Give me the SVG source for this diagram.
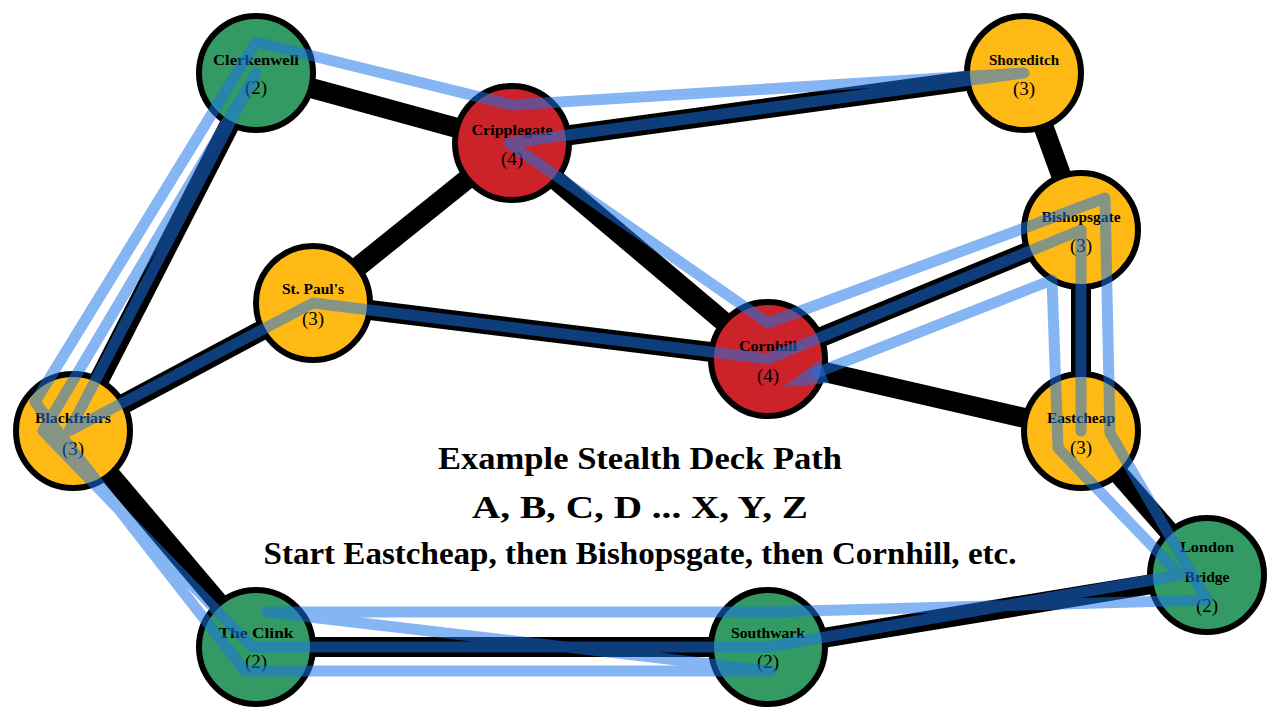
<svg xmlns="http://www.w3.org/2000/svg" width="1280" height="720" viewBox="0 0 1280 720">
<style>
.e{stroke:#000;stroke-width:20;fill:none}
.n{stroke:#000;stroke-width:6}
.g{fill:#339a63}.y{fill:#ffb914}.r{fill:#cb2329}
text{font-family:"Liberation Serif","DejaVu Serif",serif;fill:#000;text-anchor:middle}
.l{font-size:15px;font-weight:bold}
.c{font-size:19px}
.t{font-size:32px;font-weight:bold}
.route{fill:none;stroke:#1a73e8;stroke-opacity:.53;stroke-width:11;stroke-linejoin:round;stroke-linecap:round}
.tip{fill:#1a73e8;fill-opacity:.53}
</style>
<rect width="1280" height="720" fill="#fff"/>
<g id="connectors">
<line class="e" x1="256" y1="73" x2="512" y2="143"/>
<line class="e" x1="256" y1="73" x2="73" y2="431"/>
<line class="e" x1="512" y1="143" x2="313" y2="303"/>
<line class="e" x1="512" y1="143" x2="1024" y2="73"/>
<line class="e" x1="512" y1="143" x2="768" y2="359"/>
<line class="e" x1="313" y1="303" x2="73" y2="431"/>
<line class="e" x1="313" y1="303" x2="768" y2="359"/>
<line class="e" x1="1024" y1="73" x2="1081" y2="230"/>
<line class="e" x1="1081" y1="230" x2="768" y2="359"/>
<line class="e" x1="1081" y1="230" x2="1081" y2="431"/>
<line class="e" x1="768" y1="359" x2="1081" y2="431"/>
<line class="e" x1="1081" y1="431" x2="1207" y2="575"/>
<line class="e" x1="73" y1="431" x2="256" y2="647"/>
<line class="e" x1="256" y1="647" x2="768" y2="647"/>
<line class="e" x1="768" y1="647" x2="1207" y2="575"/>
</g>
<g id="clerkenwell"><circle class="n g" cx="256" cy="73" r="57"/><text class="l" x="256" y="65" textLength="86" lengthAdjust="spacingAndGlyphs">Clerkenwell</text><text class="c" x="256" y="94">(2)</text></g>
<g id="cripplegate"><circle class="n r" cx="512" cy="143" r="57"/><text class="l" x="512" y="135" textLength="81" lengthAdjust="spacingAndGlyphs">Cripplegate</text><text class="c" x="512" y="165">(4)</text></g>
<g id="st-pauls"><circle class="n y" cx="313" cy="303" r="57"/><text class="l" x="313" y="294" textLength="62" lengthAdjust="spacingAndGlyphs">St. Paul's</text><text class="c" x="313" y="325">(3)</text></g>
<g id="shoreditch"><circle class="n y" cx="1024" cy="73" r="57"/><text class="l" x="1024" y="65" textLength="70" lengthAdjust="spacingAndGlyphs">Shoreditch</text><text class="c" x="1024" y="95">(3)</text></g>
<g id="bishopsgate"><circle class="n y" cx="1081" cy="230" r="57"/><text class="l" x="1081" y="222" textLength="79" lengthAdjust="spacingAndGlyphs">Bishopsgate</text><text class="c" x="1081" y="252">(3)</text></g>
<g id="cornhill"><circle class="n r" cx="768" cy="359" r="57"/><text class="l" x="768" y="351" textLength="58" lengthAdjust="spacingAndGlyphs">Cornhill</text><text class="c" x="768" y="382">(4)</text></g>
<g id="eastcheap"><circle class="n y" cx="1081" cy="431" r="57"/><text class="l" x="1081" y="423" textLength="68" lengthAdjust="spacingAndGlyphs">Eastcheap</text><text class="c" x="1081" y="454">(3)</text></g>
<g id="blackfriars"><circle class="n y" cx="73" cy="431" r="57"/><text class="l" x="73" y="423" textLength="76" lengthAdjust="spacingAndGlyphs">Blackfriars</text><text class="c" x="73" y="455">(3)</text></g>
<g id="the-clink"><circle class="n g" cx="256" cy="647" r="57"/><text class="l" x="256" y="638" textLength="75" lengthAdjust="spacingAndGlyphs">The Clink</text><text class="c" x="256" y="668">(2)</text></g>
<g id="southwark"><circle class="n g" cx="768" cy="647" r="57"/><text class="l" x="768" y="638" textLength="74" lengthAdjust="spacingAndGlyphs">Southwark</text><text class="c" x="768" y="668">(2)</text></g>
<g id="london-bridge"><circle class="n g" cx="1207" cy="575" r="57"/><text class="l" x="1207" y="552" textLength="54" lengthAdjust="spacingAndGlyphs">London</text><text class="l" x="1207" y="582" textLength="45" lengthAdjust="spacingAndGlyphs">Bridge</text><text class="c" x="1207" y="612">(2)</text></g>
<g id="caption">
<text class="t" x="640" y="469" textLength="404" lengthAdjust="spacingAndGlyphs">Example Stealth Deck Path</text>
<text class="t" x="640" y="518" textLength="336" lengthAdjust="spacingAndGlyphs">A, B, C, D ... X, Y, Z</text>
<text class="t" x="640" y="564" textLength="753" lengthAdjust="spacingAndGlyphs">Start Eastcheap, then Bishopsgate, then Cornhill, etc.</text>
</g>
<g id="route">
<path class="route" d="M1081 431L1081 230L768 359L313 303L69 431L256 73L43 431L252 647L768 647L1180 575L1058 448L1052 280L816 373M509 143L768 323L1105 198L1110 433L1207 600L768 612L267 612L770 671L245 671L35 402L256 42L512 105L1024 73Z"/>
<polygon class="tip" points="783,387 820,360 829,383"/>
</g>
</svg>
